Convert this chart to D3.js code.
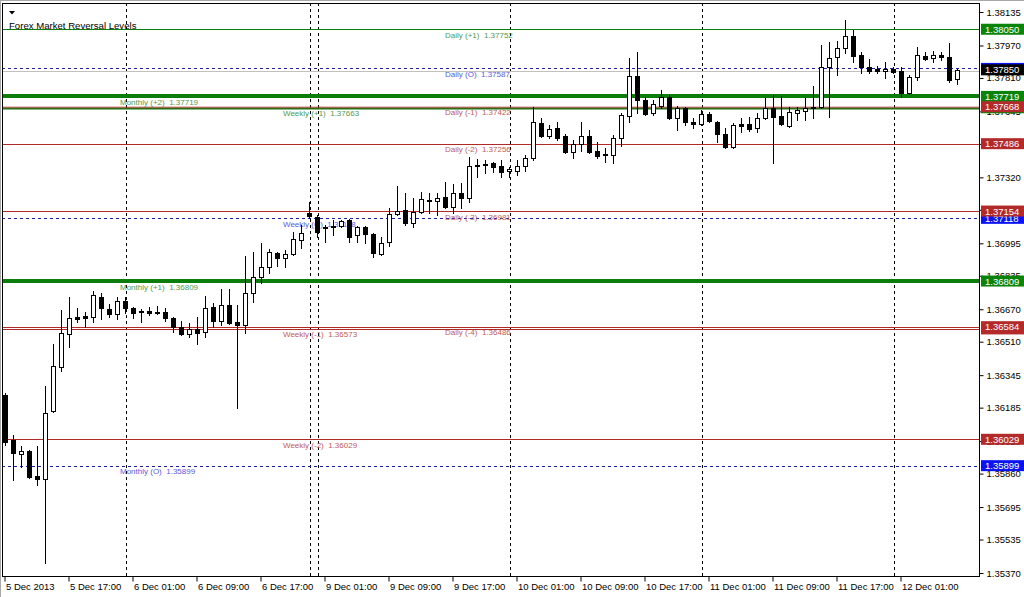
<!DOCTYPE html>
<html><head><meta charset="utf-8">
<script src="https://cdn.jsdelivr.net/npm/d3@7"></script>
<style>
body{margin:0;background:#fff;}
svg{display:block;font-family:"Liberation Sans",Arial,sans-serif;}
</style></head>
<body>
<svg id="c" width="1024" height="597"></svg>
<script>
// ---------- DATA ----------
const title = "Forex Market Reversal Levels";
// hourly bar sessions (day label, first hour, last hour)
const sessions = [["5 Dec",9,23],["6 Dec",0,22],["8 Dec",23,23],["9 Dec",0,23],["10 Dec",0,23],["11 Dec",0,23],["12 Dec",0,8]];
const open  = [1.36247,1.36025,1.35956,1.35971,1.35848,1.35833,1.36168,1.36385,1.36548,1.36632,1.36637,1.36632,1.36730,1.36671,1.36647,1.36710,1.36676,1.36661,1.36661,1.36652,1.36657,1.36627,1.36582,1.36548,1.36573,1.36558,1.36681,1.36612,1.36691,1.36607,1.36592,1.36750,1.36829,1.36878,1.36947,1.36922,1.36942,1.37011,1.37144,1.37124,1.37076,1.37081,1.37081,1.37110,1.37036,1.37076,1.37041,1.36942,1.37001,1.37139,1.37159,1.37095,1.37149,1.37208,1.37203,1.37223,1.37174,1.37243,1.37218,1.37376,1.37381,1.37391,1.37376,1.37352,1.37352,1.37376,1.37415,1.37588,1.37524,1.37563,1.37524,1.37445,1.37484,1.37524,1.37450,1.37435,1.37430,1.37514,1.37622,1.37819,1.37701,1.37637,1.37671,1.37716,1.37612,1.37661,1.37593,1.37583,1.37632,1.37593,1.37534,1.37470,1.37583,1.37583,1.37563,1.37612,1.37661,1.37622,1.37573,1.37637,1.37646,1.37667,1.37667,1.37864,1.37913,1.37957,1.38017,1.37923,1.37864,1.37854,1.37844,1.37854,1.37844,1.37736,1.37814,1.37918,1.37908,1.37923,1.37913,1.37805];
const high  = [1.36257,1.36050,1.35996,1.35976,1.35996,1.36292,1.36499,1.36666,1.36730,1.36676,1.36657,1.36760,1.36750,1.36696,1.36730,1.36730,1.36681,1.36671,1.36681,1.36686,1.36676,1.36632,1.36612,1.36602,1.36632,1.36735,1.36700,1.36770,1.36770,1.36691,1.36932,1.36952,1.36996,1.36966,1.36952,1.36961,1.37051,1.37085,1.37198,1.37134,1.37085,1.37110,1.37110,1.37115,1.37081,1.37081,1.37046,1.37026,1.37169,1.37277,1.37243,1.37218,1.37248,1.37243,1.37243,1.37297,1.37287,1.37292,1.37420,1.37410,1.37405,1.37396,1.37405,1.37371,1.37405,1.37430,1.37667,1.37612,1.37578,1.37593,1.37534,1.37504,1.37593,1.37553,1.37494,1.37464,1.37529,1.37637,1.37908,1.37938,1.37716,1.37701,1.37750,1.37726,1.37671,1.37667,1.37612,1.37651,1.37642,1.37598,1.37563,1.37588,1.37612,1.37617,1.37637,1.37711,1.37726,1.37721,1.37667,1.37667,1.37711,1.37770,1.37972,1.37987,1.37992,1.38095,1.38046,1.37938,1.37903,1.37869,1.37888,1.37864,1.37864,1.37824,1.37962,1.37938,1.37943,1.37938,1.37982,1.37854];
const low   = [1.36001,1.35828,1.35892,1.35838,1.35804,1.35419,1.36163,1.36365,1.36484,1.36607,1.36582,1.36607,1.36622,1.36632,1.36622,1.36652,1.36627,1.36607,1.36642,1.36647,1.36612,1.36558,1.36543,1.36533,1.36499,1.36533,1.36582,1.36592,1.36597,1.36183,1.36553,1.36705,1.36799,1.36848,1.36883,1.36878,1.36937,1.36971,1.37119,1.37026,1.37001,1.37036,1.37076,1.37001,1.37001,1.36996,1.36927,1.36937,1.36981,1.37134,1.37086,1.37076,1.37144,1.37144,1.37134,1.37169,1.37144,1.37169,1.37198,1.37322,1.37342,1.37347,1.37322,1.37322,1.37332,1.37352,1.37405,1.37519,1.37514,1.37504,1.37440,1.37415,1.37450,1.37440,1.37415,1.37396,1.37391,1.37474,1.37593,1.37637,1.37627,1.37627,1.37661,1.37607,1.37553,1.37578,1.37563,1.37578,1.37593,1.37494,1.37465,1.37465,1.37543,1.37548,1.37543,1.37607,1.37391,1.37578,1.37568,1.37603,1.37603,1.37612,1.37661,1.37617,1.37824,1.37933,1.37888,1.37834,1.37834,1.37834,1.37809,1.37834,1.37716,1.37731,1.37799,1.37898,1.37888,1.37898,1.37790,1.37780];
const close = [1.36016,1.35961,1.35971,1.35843,1.35833,1.36158,1.36390,1.36553,1.36627,1.36622,1.36627,1.36740,1.36676,1.36647,1.36710,1.36676,1.36652,1.36657,1.36652,1.36657,1.36627,1.36582,1.36548,1.36573,1.36553,1.36676,1.36612,1.36691,1.36602,1.36592,1.36750,1.36829,1.36878,1.36952,1.36922,1.36942,1.37016,1.37046,1.37129,1.37051,1.37071,1.37076,1.37105,1.37026,1.37076,1.37041,1.36947,1.36996,1.37139,1.37154,1.37095,1.37149,1.37213,1.37203,1.37218,1.37174,1.37243,1.37218,1.37376,1.37381,1.37386,1.37371,1.37347,1.37362,1.37376,1.37415,1.37593,1.37524,1.37558,1.37514,1.37445,1.37484,1.37524,1.37445,1.37425,1.37430,1.37514,1.37627,1.37819,1.37701,1.37632,1.37681,1.37716,1.37612,1.37661,1.37593,1.37583,1.37632,1.37598,1.37534,1.37470,1.37578,1.37573,1.37558,1.37612,1.37661,1.37617,1.37583,1.37642,1.37651,1.37661,1.37661,1.37864,1.37908,1.37957,1.38017,1.37918,1.37864,1.37844,1.37844,1.37854,1.37839,1.37736,1.37814,1.37923,1.37903,1.37923,1.37913,1.37800,1.37850];

const priceTicks = [1.38135,1.37970,1.37810,1.37645,1.37485,1.37320,1.37160,1.36995,1.36835,1.36670,1.36510,1.36345,1.36185,1.36020,1.35860,1.35695,1.35535,1.35370];
const timeTickBars   = ["5 Dec 09:00","5 Dec 17:00","6 Dec 01:00","6 Dec 09:00","6 Dec 17:00","9 Dec 01:00","9 Dec 09:00","9 Dec 17:00","10 Dec 01:00","10 Dec 09:00","10 Dec 17:00","11 Dec 01:00","11 Dec 09:00","11 Dec 17:00","12 Dec 01:00"];
const timeTickLabels = ["5 Dec 2013","5 Dec 17:00","6 Dec 01:00","6 Dec 09:00","6 Dec 17:00","9 Dec 01:00","9 Dec 09:00","9 Dec 17:00","10 Dec 01:00","10 Dec 09:00","10 Dec 17:00","11 Dec 01:00","11 Dec 09:00","11 Dec 17:00","12 Dec 01:00"];
const daySeparators = ["6 Dec 00:00","8 Dec 23:00","9 Dec 00:00","10 Dec 00:00","11 Dec 00:00","12 Dec 00:00"];

// reversal levels
const levelNames  = ["Monthly (+2)","Monthly (+1)","Monthly (O)","Weekly (+1)","Weekly (O)","Weekly (-1)","Weekly (-2)","Daily (+1)","Daily (O)","Daily (-1)","Daily (-2)","Daily (-3)","Daily (-4)"];
const levelPrices = [1.37719,1.36809,1.35899,1.37663,1.37118,1.36573,1.36029,1.38050,1.37857,1.37668,1.37486,1.37154,1.36584];
const levelTexts  = ["1.37719","1.36809","1.35899","1.37663","1.37118","1.36573","1.36029","1.37752","1.37587","1.37422","1.37256","1.36981","1.36486"];
const levelKinds  = ["up","up","open","up","open","down","down","up","open","down","down","down","down"];
const bidPrice = 1.37850;

// ---------- LAYOUT / STYLE ----------
const L=2, R=979, T=3, B=576;
const kindColor = {up:"#0b7d0b", open:"#1c1ca8", down:"#b02828"};
const boxColor  = {up:"#0a830a", open:"#0a14f0", down:"#b22a2a"};
const textColor = {up:"#4f9a4f", open:"#5a5ae6", down:"#c25a5a"};

const bars=[];
sessions.forEach(([d,a,b])=>{for(let h=a;h<=b;h++) bars.push(d+" "+String(h).padStart(2,"0")+":00");});

const svg=d3.select("#c");
const x=d3.scalePoint().domain(bars).range([5.5,5.5+8*(bars.length-1)]);
const y=d3.scaleLinear().domain([1.35370,1.38135]).range([573,12]);
const py=v=>Math.round(y(v))+0.5;

// frame
svg.append("rect").attr("x",0).attr("y",0).attr("width",1024).attr("height",597).attr("fill","#fff");
svg.append("line").attr("x1",0).attr("x2",1024).attr("y1",0.5).attr("y2",0.5).attr("stroke","#a8a8a8");
svg.append("line").attr("x1",0.5).attr("x2",0.5).attr("y1",0).attr("y2",597).attr("stroke","#a8a8a8");

const plot=svg.append("g");
// day separators
plot.selectAll("line.sep").data(daySeparators).join("line")
  .attr("x1",d=>x(d)+1).attr("x2",d=>x(d)+1).attr("y1",T).attr("y2",B)
  .attr("stroke","#000").attr("stroke-dasharray","3,3");

// level lines
const lv = levelPrices.map((p,i)=>({p,i,kind:levelKinds[i],name:levelNames[i],txt:levelTexts[i]}));
const monthlyThick = d=>d.name.startsWith("Monthly")&&d.kind!=="open";
// bid line
plot.append("line").attr("x1",L).attr("x2",R).attr("y1",py(bidPrice)+1).attr("y2",py(bidPrice)+1).attr("stroke","#c0c0c0");
plot.selectAll("line.lv").data(lv).join("line")
  .attr("x1",L).attr("x2",R)
  .attr("y1",d=>monthlyThick(d)?Math.round(y(d.p)):py(d.p))
  .attr("y2",d=>monthlyThick(d)?Math.round(y(d.p)):py(d.p))
  .attr("stroke",d=>kindColor[d.kind])
  .attr("stroke-width",d=>monthlyThick(d)?4:(d.name==="Weekly (+1)"||d.name==="Daily (-1)")?2:1)
  .attr("stroke-opacity",d=>d.name==="Daily (-1)"?0.55:1)
  .attr("stroke-dasharray",d=>d.kind==="open"?"3,3":null);

// level labels
const labelX = {Monthly:120, Weekly:283, Daily:445};
plot.selectAll("text.lv").data(lv).join("text")
  .attr("x",d=>labelX[d.name.split(" ")[0]])
  .attr("y",d=>y(d.p)+8.5)
  .attr("font-size","8px").attr("fill",d=>textColor[d.kind])
  .text(d=>d.name+"  "+d.txt).attr("xml:space","preserve");

// candles
const data = bars.map((b,i)=>({b,o:open[i],h:high[i],l:low[i],c:close[i]}));
const cg = plot.selectAll("g.cd").data(data).join("g");
cg.append("line").attr("x1",d=>x(d.b)).attr("x2",d=>x(d.b))
  .attr("y1",d=>py(d.h)-0.5).attr("y2",d=>py(d.l)+0.5).attr("stroke","#000");
cg.append("rect")
  .attr("x",d=>x(d.b)-2).attr("width",4)
  .attr("y",d=>Math.min(py(d.o),py(d.c)))
  .attr("height",d=>Math.max(1,Math.abs(py(d.o)-py(d.c))))
  .attr("fill",d=>d.c>=d.o?"#fff":"#000").attr("stroke","#000");

// plot border
svg.append("rect").attr("x",L+0.5).attr("y",T+0.5).attr("width",R-L).attr("height",B-T)
  .attr("fill","none").attr("stroke","#000");

// price axis
const ya=svg.append("g").attr("transform",`translate(${R+0.5},0)`)
  .call(d3.axisRight(y).tickValues(priceTicks).tickFormat(d3.format(".5f")).tickSize(4).tickPadding(3));
ya.select(".domain").remove();
ya.selectAll(".tick line").attr("stroke","#000");
ya.selectAll(".tick text").attr("font-size","9.5px").attr("fill","#000").attr("font-family","Liberation Sans, Arial, sans-serif");

// price boxes
const boxes = lv.slice().sort((a,b)=>(a.name.startsWith("Daily")?1:0)-(b.name.startsWith("Daily")?1:0));
const bg=svg.append("g");
function box(p,fill,label){
  const yy=y(p);
  bg.append("rect").attr("x",R+2).attr("y",yy-5.5).attr("width",1024-R-2).attr("height",11).attr("fill",fill);
  bg.append("text").attr("x",R+6).attr("y",yy+3.5).attr("font-size","9.5px").attr("fill","#fff").text(label);
}
boxes.forEach(d=>box(d.p,boxColor[d.kind],d3.format(".5f")(d.p)));
box(bidPrice,"#000",d3.format(".5f")(bidPrice));

// time axis
const tmap=new Map(timeTickBars.map((b,i)=>[b,timeTickLabels[i]]));
const xa=svg.append("g").attr("transform",`translate(-1,${B+0.5})`)
  .call(d3.axisBottom(x).tickValues(timeTickBars).tickFormat(d=>tmap.get(d)).tickSize(5).tickPadding(2));
xa.select(".domain").remove();
xa.selectAll(".tick line").attr("stroke","#000");
xa.selectAll(".tick text").attr("text-anchor","start").attr("dx","1").attr("font-size","9.5px").attr("fill","#000").attr("font-family","Liberation Sans, Arial, sans-serif");

// title + triangle
svg.append("path").attr("d","M9,11 L15,11 L12,14.5 Z").attr("fill","#000");
svg.append("text").attr("x",9).attr("y",29).attr("font-size","9.6px").attr("fill","#000").text(title);
</script>
</body></html>
